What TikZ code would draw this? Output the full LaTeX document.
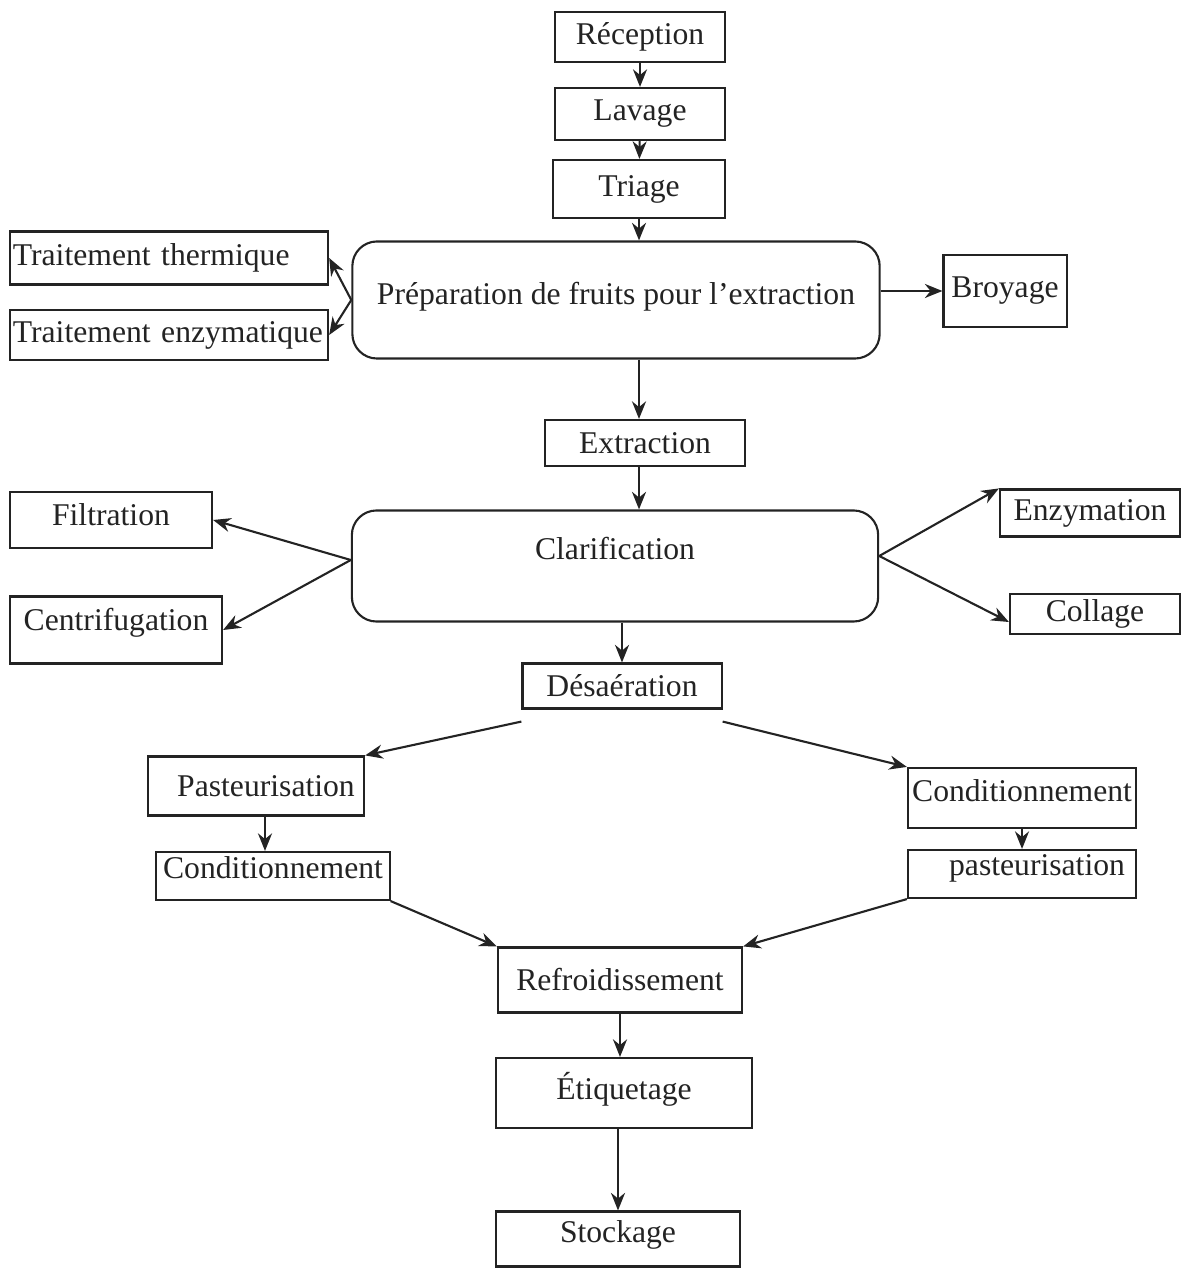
\documentclass[tikz,border=0pt]{standalone}
\usepackage{fontspec}
\setmainfont{Liberation Serif}
\usepackage{tikz}
\usetikzlibrary{positioning,calc,arrows.meta}
\definecolor{inkgray}{RGB}{35,35,35}

\begin{document}
\begin{tikzpicture}[
  x=0.01cm,y=-0.01cm,
  stage/.style={rectangle,draw=inkgray,line width=0.6pt,inner sep=0pt,
    font=\fontsize{9}{11}\selectfont,text=inkgray},
  phase/.style={stage,rounded corners=7pt},
  side/.style={stage,align=left,text width=3.12cm,inner xsep=0.03cm},
  flow/.style={draw=inkgray,line width=0.6pt,-{Stealth[length=5pt,width=4pt]}}
]
\useasboundingbox (0,0) rectangle (1183,1268);

% main line
\node[stage,minimum width=1.70cm,minimum height=0.50cm] (rec) at (640,37) {Réception};
\node[stage,minimum width=1.70cm,minimum height=0.52cm] (lav) at (640,114) {Lavage};
\node[stage,minimum width=1.72cm,minimum height=0.58cm] (tri) at (639,189) {Triage};
\node[phase,minimum width=5.27cm,minimum height=1.17cm,text depth=4pt] (prep) at (616,300) {Préparation de fruits pour l'extraction};
\node[stage,minimum width=2.00cm,minimum height=0.46cm] (extr) at (645,443) {Extraction};
\node[phase,minimum width=5.26cm,minimum height=1.11cm,text depth=10pt] (clar) at (615,566) {Clarification};
\node[stage,minimum width=1.99cm,minimum height=0.45cm] (desa) at (622,686) {Désaération};

% side steps
\node[side,minimum height=0.53cm] (therm) at (169,258) {\mbox{Traitement thermique}};
\node[side,minimum height=0.50cm] (enzt) at (169,335) {\mbox{Traitement enzymatique}};
\node[stage,minimum width=1.23cm,minimum height=0.72cm] (broy) at (1005,291) {Broyage};
\node[stage,minimum width=2.02cm,minimum height=0.56cm,text depth=3pt] (filt) at (111,520) {Filtration};
\node[stage,minimum width=2.12cm,minimum height=0.67cm,text depth=6pt] (centr) at (116,630) {Centrifugation};
\node[stage,minimum width=1.80cm,minimum height=0.47cm] (enzm) at (1090,513) {Enzymation};
\node[stage,minimum width=1.70cm,minimum height=0.40cm] (coll) at (1095,614) {Collage};

% two branches
\node[stage,minimum width=2.16cm,minimum height=0.59cm] (past) at (256,786) {\hspace*{0.2cm}Pasteurisation};
\node[stage,minimum width=2.33cm,minimum height=0.48cm,text depth=5pt] (condL) at (273,876) {Conditionnement};
\node[stage,minimum width=2.28cm,minimum height=0.60cm,text depth=4pt] (condR) at (1022,798) {Conditionnement};
\node[stage,minimum width=2.28cm,minimum height=0.48cm,text depth=5pt] (pastR) at (1022,874) {\hspace*{0.3cm}pasteurisation};

% end of line
\node[stage,minimum width=2.44cm,minimum height=0.65cm] (refr) at (620,980) {Refroidissement};
\node[stage,minimum width=2.55cm,minimum height=0.70cm,text depth=4pt] (etiq) at (624,1093) {Étiquetage};
\node[stage,minimum width=2.43cm,minimum height=0.55cm,text depth=4pt] (stock) at (618,1239) {Stockage};

\coordinate (dl) at ($(desa.south west)+(0,12)$);
\coordinate (dr) at ($(desa.south east)+(0,12)$);
\coordinate (pc) at ($(past.south)+(9,0)$);

\draw[flow] (rec) -- (lav);
\draw[flow] (lav) -- (tri);
\draw[flow] (tri.south) -- (tri.south |- prep.north);
\draw[flow] (prep.west) -- (therm.east);
\draw[flow] (prep.west) -- (enzt.east);
\draw[flow] (prep.east |- broy) -- (broy.west);
\draw[flow] (tri.south |- prep.south) -- (tri.south |- extr.north);
\draw[flow] (tri.south |- extr.south) -- (tri.south |- clar.north);
\draw[flow] ($(clar.west)+(0,-6)$) -- (filt.east);
\draw[flow] ($(clar.west)+(0,-6)$) -- (centr.east);
\draw[flow] ($(clar.east)+(0,-10)$) -- (enzm.north west);
\draw[flow] ($(clar.east)+(0,-10)$) -- ($(coll.west)+(0,8)$);
\draw[flow] (desa.north |- clar.south) -- (desa.north);
\draw[flow] (dl) -- (past.north east);
\draw[flow] (dr) -- (condR.north west);
\draw[flow] (pc) -- (pc |- condL.north);
\draw[flow] (condR) -- (pastR);
\draw[flow] (condL.south east) -- (refr.north west);
\draw[flow] (pastR.south west) -- (refr.north east);
\draw[flow] (refr.south) -- (refr.south |- etiq.north);
\draw[flow] (stock.north |- etiq.south) -- (stock.north);
\end{tikzpicture}
\end{document}
